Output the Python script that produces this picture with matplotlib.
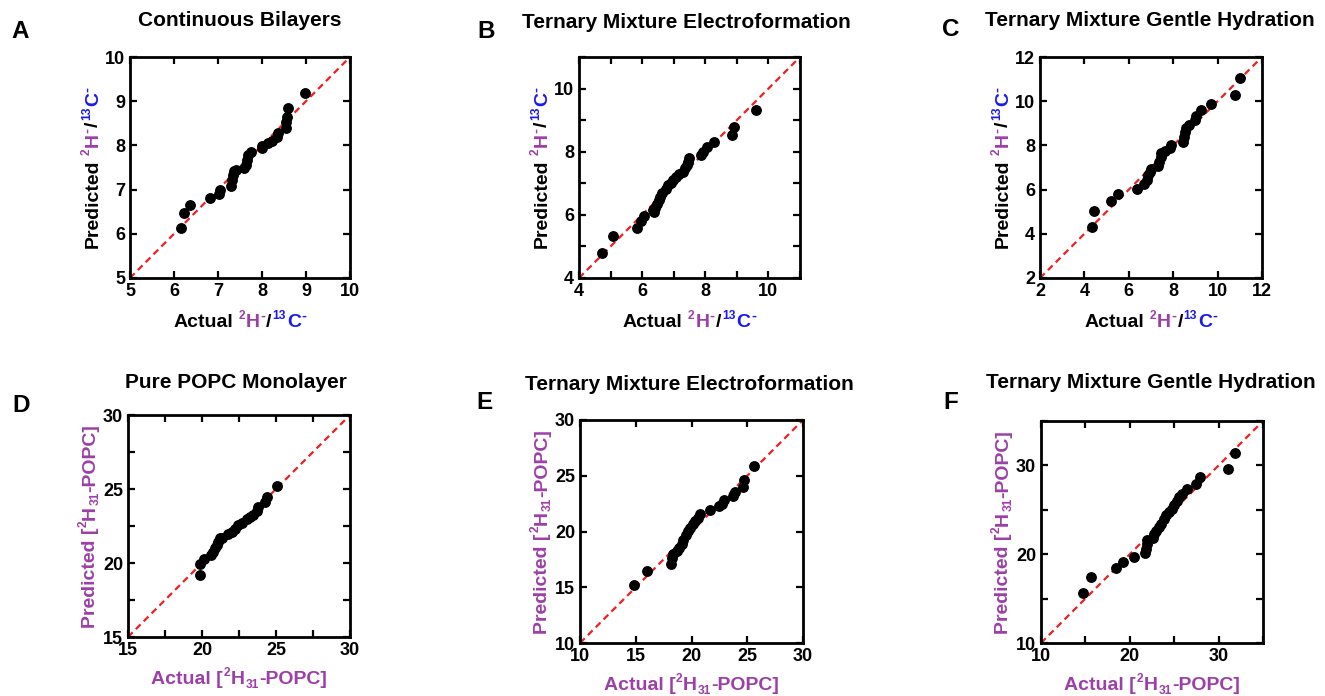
import matplotlib
matplotlib.use("Agg")
import matplotlib.pyplot as plt
from matplotlib.transforms import IdentityTransform

plt.rcParams['font.family'] = ['Liberation Sans', 'DejaVu Sans']
plt.rcParams['font.weight'] = 'bold'

# ---- data ----
a_actual = [6.16, 6.23, 6.36, 6.82, 7.03, 7.05, 7.29, 7.31, 7.33, 7.36, 7.42, 7.58, 7.64,
            7.67, 7.69, 7.76, 7.99, 7.99, 8.14, 8.22, 8.33, 8.37, 8.55, 8.55, 8.56, 8.58, 8.98]
a_pred = [6.12, 6.46, 6.65, 6.80, 6.90, 7.00, 7.08, 7.22, 7.33, 7.42, 7.45, 7.50, 7.56,
          7.67, 7.78, 7.85, 7.93, 7.98, 8.06, 8.10, 8.20, 8.29, 8.39, 8.52, 8.65, 8.84, 9.19]

b_actual = [4.73, 5.07, 5.85, 5.97, 6.07, 6.34, 6.39, 6.42, 6.46, 6.52, 6.55, 6.63, 6.76,
            6.81, 6.92, 6.97, 7.07, 7.18, 7.28, 7.37, 7.41, 7.44, 7.47, 7.86, 7.92, 8.07,
            8.29, 8.84, 8.91, 9.60]
b_pred = [4.79, 5.32, 5.58, 5.81, 5.95, 6.16, 6.08, 6.21, 6.35, 6.47, 6.58, 6.68, 6.81,
          6.95, 7.02, 7.10, 7.21, 7.29, 7.37, 7.47, 7.58, 7.68, 7.79, 7.89, 8.00, 8.16,
          8.32, 8.52, 8.79, 9.32]

c_actual = [4.32, 4.44, 5.19, 5.52, 6.38, 6.69, 6.80, 6.87, 6.95, 7.02, 7.32, 7.37, 7.43,
            7.47, 7.62, 7.85, 7.90, 8.45, 8.50, 8.52, 8.57, 8.72, 8.97, 9.02, 9.23, 9.72,
            10.77, 10.99]
c_pred = [4.29, 5.05, 5.47, 5.79, 6.03, 6.26, 6.44, 6.66, 6.81, 6.92, 7.08, 7.26, 7.49,
          7.64, 7.76, 7.90, 8.02, 8.17, 8.39, 8.62, 8.77, 8.92, 9.14, 9.34, 9.59, 9.89,
          10.30, 11.07]

d_actual = [19.85, 19.85, 20.12, 20.64, 20.76, 20.87, 20.98, 21.09, 21.21, 21.32, 21.77,
            22.00, 22.22, 22.45, 22.67, 23.01, 23.24, 23.46, 23.69, 23.80, 24.25, 24.37, 25.05]
d_pred = [19.22, 19.92, 20.24, 20.53, 20.76, 20.98, 21.21, 21.43, 21.66, 21.72, 21.95,
          22.10, 22.33, 22.56, 22.71, 22.94, 23.12, 23.24, 23.53, 23.80, 24.14, 24.48, 25.20]

e_actual = [14.85, 15.99, 18.17, 18.23, 18.38, 18.68, 18.92, 19.13, 19.28, 19.52, 19.73,
            19.88, 20.12, 20.33, 20.54, 20.78, 21.62, 22.43, 22.72, 22.87, 23.71, 23.92,
            24.61, 24.73, 25.57]
e_pred = [15.24, 16.44, 17.13, 17.63, 17.99, 18.23, 18.53, 18.89, 19.28, 19.73, 20.03,
          20.33, 20.63, 20.93, 21.23, 21.53, 21.92, 22.28, 22.51, 22.81, 23.17, 23.53,
          24.01, 24.61, 25.87]

f_actual = [14.76, 15.58, 18.48, 19.22, 20.52, 21.71, 21.82, 21.93, 21.93, 22.64, 22.75,
            22.94, 23.31, 23.49, 23.87, 24.13, 24.42, 24.80, 24.98, 25.35, 25.54, 25.91,
            26.47, 27.51, 27.96, 31.04, 31.86]
f_pred = [15.66, 17.45, 18.45, 19.12, 19.68, 20.17, 20.61, 21.17, 21.55, 21.81, 22.29,
          22.66, 23.04, 23.41, 23.97, 24.45, 24.71, 25.08, 25.57, 26.01, 26.39, 26.83,
          27.39, 27.95, 28.70, 29.63, 31.42]

titles = ["Continuous Bilayers", "Ternary Mixture Electroformation",
          "Ternary Mixture Gentle Hydration", "Pure POPC Monolayer",
          "Ternary Mixture Electroformation", "Ternary Mixture Gentle Hydration"]
letters = ["A", "B", "C", "D", "E", "F"]

a_ticks = [5, 6, 7, 8, 9, 10]
a_labels = ["5", "6", "7", "8", "9", "10"]
b_ticks = [4, 5, 6, 7, 8, 9, 10, 11]
b_labels = ["4", "", "6", "", "8", "", "10", ""]
c_ticks = [2, 4, 6, 8, 10, 12]
c_labels = ["2", "4", "6", "8", "10", "12"]
d_ticks = [15, 17.5, 20, 22.5, 25, 27.5, 30]
d_labels = ["15", "", "20", "", "25", "", "30"]
e_ticks = [10, 15, 20, 25, 30]
e_labels = ["10", "15", "20", "25", "30"]
f_ticks = [10, 15, 20, 25, 30, 35]
f_labels = ["10", "", "20", "", "30", ""]

PURPLE = '#9c3fa8'
BLUE = '#1a1aee'
W, H = 1325, 696
LAB = 14  # axis label size, pt

fig = plt.figure(figsize=(W / 100, H / 100), dpi=100)

# pixel boxes: left, top, right, bottom ; title centre ; letter centre
panels = [
    dict(x=a_actual, y=a_pred, lim=(5, 10), ticks=a_ticks, labels=a_labels,
         box=(130, 57, 350, 278), tpos=(240, 20), lpos=(20, 31), kind="ion"),
    dict(x=b_actual, y=b_pred, lim=(4, 11), ticks=b_ticks, labels=b_labels,
         box=(579, 57, 800, 278), tpos=(686, 22), lpos=(486, 31), kind="ion"),
    dict(x=c_actual, y=c_pred, lim=(2, 12), ticks=c_ticks, labels=c_labels,
         box=(1040, 57, 1262, 278), tpos=(1150, 20), lpos=(951, 29), kind="ion"),
    dict(x=d_actual, y=d_pred, lim=(15, 30), ticks=d_ticks, labels=d_labels,
         box=(128, 415, 350, 637), tpos=(236, 383), lpos=(21, 406), kind="popc"),
    dict(x=e_actual, y=e_pred, lim=(10, 30), ticks=e_ticks, labels=e_labels,
         box=(580, 420, 803, 643), tpos=(689, 385), lpos=(485, 403), kind="popc"),
    dict(x=f_actual, y=f_pred, lim=(10, 35), ticks=f_ticks, labels=f_labels,
         box=(1041, 421, 1263, 643), tpos=(1151, 383), lpos=(951, 403), kind="popc"),
]

SUP = (0.62, 0.42)   # size factor, rise in em
SUB = (0.62, -0.18)
NORM = (1.0, 0.0)
DASH = (0.75, 0.36)


def put_pieces(pieces, x, y, rot, size=LAB):
    # draw coloured pieces one after another, centred on x (or on y when rotated)
    r = fig.canvas.get_renderer()
    em = size * 100 / 72
    objs = []
    for s, c, style, gap in pieces:
        k, rise = style
        t = fig.text(0, 0, s, color=c, fontsize=size * k, fontweight='bold', rotation=rot,
                     rotation_mode='anchor', ha='left', va='baseline',
                     transform=IdentityTransform())
        bb = t.get_window_extent(r)
        objs.append((t, (bb.width if rot == 0 else bb.height) + gap, rise * em))
    total = sum(o[1] for o in objs)
    pos = -total / 2
    for t, w, rise in objs:
        if rot == 0:
            t.set_position((x + pos, y + rise))
        else:
            t.set_position((x - rise, y + pos))
        pos += w


def ion_label(word):
    return [(word, 'black', NORM, 5), ("2", PURPLE, SUP, 1), ("H", PURPLE, NORM, 0.5),
            ("-", PURPLE, DASH, 1), ("/", 'black', NORM, 1), ("13", BLUE, SUP, 1),
            ("C", BLUE, NORM, 0.5), ("-", BLUE, DASH, 0)]


def popc_label(word):
    return [(word + " [", PURPLE, NORM, 1), ("2", PURPLE, SUP, 0.5), ("H", PURPLE, NORM, 0.5),
            ("31", PURPLE, SUB, 0.5), ("-POPC]", PURPLE, NORM, 0)]


for i, p in enumerate(panels):
    l, t, r, b = p["box"]
    ax = fig.add_axes([l / W, 1 - b / H, (r - l) / W, (b - t) / H])
    lo, hi = p["lim"]
    ax.plot([lo, hi], [lo, hi], color='#ee2020', lw=1.6, dashes=(3, 2), zorder=1)
    ax.plot(p["x"], p["y"], 'o', color='black', markersize=6.8, zorder=2)
    ax.set_xlim(lo, hi)
    ax.set_ylim(lo, hi)
    ax.set_xticks(p["ticks"], p["labels"])
    ax.set_yticks(p["ticks"], p["labels"])
    ax.tick_params(direction='in', top=True, right=True, length=5, width=1.6,
                   labelsize=13, pad=3.5)
    for s in ax.spines.values():
        s.set_linewidth(2)

    fig.text(p["tpos"][0] / W, 1 - p["tpos"][1] / H, titles[i], ha='center', va='center',
             fontsize=15, fontweight='bold')
    fig.text(p["lpos"][0] / W, 1 - p["lpos"][1] / H, letters[i], ha='center', va='center',
             fontsize=17.5, fontweight='bold')

    cx = (l + r) / 2
    cy = H - (t + b) / 2
    if p["kind"] == "ion":
        put_pieces(ion_label("Actual"), cx, H - b - 49, 0)
        put_pieces(ion_label("Predicted"), l - 32, cy, 90)
    else:
        put_pieces(popc_label("Actual"), cx, H - b - 47, 0)
        put_pieces(popc_label("Predicted"), l - 33, cy, 90)

fig.savefig("out.png", dpi=100)
